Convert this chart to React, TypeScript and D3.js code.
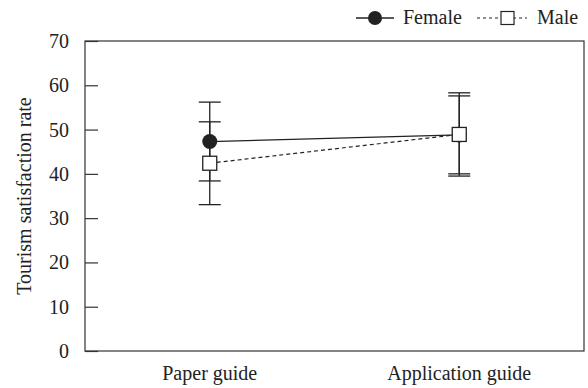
import React, { useRef, useEffect } from 'react';
import * as d3 from 'd3';

const categories = ['Paper guide', 'Application guide'];
const femaleMean = [47.3, 48.8];
const femaleErr = [8.9, 8.8];
const maleMean = [42.4, 48.9];
const maleErr = [9.35, 9.4];
const yTicks = [0, 10, 20, 30, 40, 50, 60, 70];

const FONT = 'Liberation Serif, Times New Roman, serif';

const App = () => {
  const ref = useRef<SVGSVGElement>(null);

  useEffect(() => {
    const width = 588;
    const height = 388;
    const m = { left: 85, right: 4, top: 41, bottom: 37 };

    const svg = d3.select(ref.current)
      .attr('width', width)
      .attr('height', height)
      .attr('font-family', FONT);

    svg.selectAll('*').remove();

    const x = d3.scaleBand()
      .domain(categories)
      .range([m.left, width - m.right])
      .padding(0);

    const y = d3.scaleLinear()
      .domain([0, 70])
      .range([height - m.bottom, m.top]);

    const cx = (c: string) => (x(c) as number) + x.bandwidth() / 2;
    const ink = '#222';

    // frame
    svg.append('rect')
      .attr('x', m.left)
      .attr('y', m.top)
      .attr('width', width - m.left - m.right)
      .attr('height', height - m.top - m.bottom)
      .attr('fill', 'none')
      .attr('stroke', '#333')
      .attr('stroke-width', 1.2);

    // y axis, ticks pointing inward
    const yAxis = svg.append('g')
      .attr('transform', `translate(${m.left},0)`)
      .call(d3.axisRight(y).tickValues(yTicks).tickSize(13).tickFormat(() => ''));
    yAxis.select('.domain').remove();
    yAxis.selectAll('line').attr('stroke', '#333').attr('stroke-width', 1.2);

    svg.append('g')
      .selectAll('text')
      .data(yTicks)
      .enter().append('text')
      .attr('x', 69)
      .attr('y', d => y(d))
      .attr('dy', '0.35em')
      .attr('text-anchor', 'end')
      .attr('font-size', 20)
      .attr('fill', ink)
      .text(d => d);

    // x labels
    svg.append('g')
      .selectAll('text')
      .data(categories)
      .enter().append('text')
      .attr('x', d => cx(d))
      .attr('y', 380)
      .attr('text-anchor', 'middle')
      .attr('font-size', 20)
      .attr('fill', ink)
      .text(d => d);

    // y title
    svg.append('text')
      .attr('transform', `translate(24,${(m.top + height - m.bottom) / 2}) rotate(-90)`)
      .attr('dy', '0.35em')
      .attr('text-anchor', 'middle')
      .attr('font-size', 20)
      .attr('fill', ink)
      .text('Tourism satisfaction rate');

    const series = [
      { key: 'female', mean: femaleMean, err: femaleErr, dash: null },
      { key: 'male', mean: maleMean, err: maleErr, dash: '4,3' },
    ];

    // error bars
    series.forEach(s => {
      const g = svg.append('g');
      categories.forEach((c, i) => {
        const lo = y(s.mean[i] - s.err[i]);
        const hi = y(s.mean[i] + s.err[i]);
        g.append('line')
          .attr('x1', cx(c)).attr('x2', cx(c))
          .attr('y1', lo).attr('y2', hi)
          .attr('stroke', ink).attr('stroke-width', 1.3);
        [lo, hi].forEach(v => {
          g.append('line')
            .attr('x1', cx(c) - 11).attr('x2', cx(c) + 11)
            .attr('y1', v).attr('y2', v)
            .attr('stroke', ink).attr('stroke-width', 1.3);
        });
      });
    });

    // connecting lines
    const line = d3.line<number>()
      .x((_, i) => cx(categories[i]))
      .y(d => y(d));

    series.forEach(s => {
      svg.append('path')
        .attr('d', line(s.mean))
        .attr('fill', 'none')
        .attr('stroke', ink)
        .attr('stroke-width', 1.2)
        .attr('stroke-dasharray', s.dash);
    });

    // markers: circles first, squares on top
    svg.append('g')
      .selectAll('circle')
      .data(femaleMean)
      .enter().append('circle')
      .attr('cx', (_, i) => cx(categories[i]))
      .attr('cy', d => y(d))
      .attr('r', 7.5)
      .attr('fill', ink);

    svg.append('g')
      .selectAll('rect')
      .data(maleMean)
      .enter().append('rect')
      .attr('x', (_, i) => cx(categories[i]) - 7)
      .attr('y', d => y(d) - 7)
      .attr('width', 14)
      .attr('height', 14)
      .attr('fill', 'white')
      .attr('stroke', ink)
      .attr('stroke-width', 1.3);

    // legend
    const lg = svg.append('g');
    lg.append('line')
      .attr('x1', 356).attr('x2', 394).attr('y1', 18).attr('y2', 18)
      .attr('stroke', ink).attr('stroke-width', 1.3);
    lg.append('circle')
      .attr('cx', 375).attr('cy', 18).attr('r', 7)
      .attr('fill', ink);
    lg.append('text')
      .attr('x', 403).attr('y', 24)
      .attr('font-size', 20)
      .attr('fill', ink)
      .text('Female');

    lg.append('line')
      .attr('x1', 477).attr('x2', 527).attr('y1', 18).attr('y2', 18)
      .attr('stroke', ink).attr('stroke-width', 1.2)
      .attr('stroke-dasharray', '3,3');
    lg.append('rect')
      .attr('x', 501).attr('y', 11.5).attr('width', 13).attr('height', 13)
      .attr('fill', 'white').attr('stroke', ink).attr('stroke-width', 1.2);
    lg.append('text')
      .attr('x', 537).attr('y', 24)
      .attr('font-size', 20)
      .attr('fill', ink)
      .text('Male');
  }, []);

  return (
    <svg ref={ref} style={{ position: 'absolute', left: 0, top: 0 }}></svg>
  );
};

export default App;
